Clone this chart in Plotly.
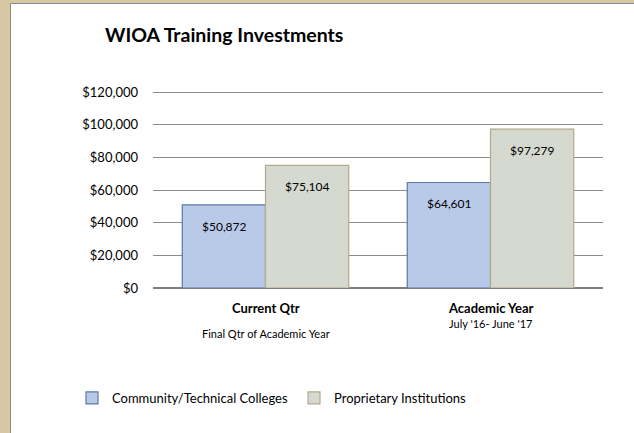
import plotly.graph_objects as go

categories = ["Current Qtr", "Academic Year"]
cat_subtitles = ["Final Qtr of Academic Year", "July '16- June '17"]
series_names = ["Community/Technical Colleges", "Proprietary Institutions"]
colleges = [50872, 64601]
proprietary = [75104, 97279]
y_ticks = [0, 20000, 40000, 60000, 80000, 100000, 120000]

FONT = "Lato"

# plot area in pixels (used for the page border shapes)
W, H = 634, 433
L, R, T, B = 153, 31, 90, 145
pw, ph = W - L - R, H - T - B
y_top = y_ticks[-1] * ph / (ph - 2)  # keep a little room so the top gridline shows

fig = go.Figure()
fig.add_trace(go.Bar(
    x=categories, y=colleges, name=series_names[0],
    marker=dict(color="#b9cae9", line=dict(color="#5a78aa", width=1.2)),
))
fig.add_trace(go.Bar(
    x=categories, y=proprietary, name=series_names[1],
    marker=dict(color="#d6d9d0", line=dict(color="#b5aa8a", width=1.2)),
))

annotations = []
# value labels inside top of bars
for i, cat in enumerate(categories):
    for j, vals in enumerate([colleges, proprietary]):
        annotations.append(dict(
            x=i, y=vals[i], xref="x", yref="y",
            text="${:,}".format(vals[i]), showarrow=False,
            xshift=(-41.5 if j == 0 else 41.5), yshift=-12, yanchor="top",
            font=dict(family=FONT, size=12, color="#000"),
        ))
# category labels
for i, cat in enumerate(categories):
    annotations.append(dict(
        x=i, y=0, xref="x", yref="y", text="<b>%s</b>" % cat, showarrow=False,
        yshift=-20, yanchor="middle", font=dict(family=FONT, size=13, color="#000"),
    ))
    annotations.append(dict(
        x=i, y=0, xref="x", yref="y", text=cat_subtitles[i], showarrow=False,
        yshift=(-45 if i == 0 else -35), yanchor="middle",
        font=dict(family=FONT, size=11, color="#000"),
    ))

shapes = [
    # white page on tan background, with a grey inner edge
    dict(type="rect", xref="paper", yref="paper", layer="below",
         x0=(10.5 - L) / pw, x1=(W + 20 - L) / pw,
         y0=-(B + 20) / ph, y1=(T + ph - 3.5) / ph,
         fillcolor="white", line=dict(color="#8a8a8a", width=1)),
]

fig.update_layout(
    width=W, height=H,
    margin=dict(l=L, r=R, t=T, b=B),
    paper_bgcolor="#d6c8a2",
    plot_bgcolor="rgba(0,0,0,0)",
    barmode="group", bargap=0.26, bargroupgap=0,
    title=dict(text="<b>WIOA Training Investments</b>", x=105 / W, xanchor="left",
               y=1 - 35 / H, yanchor="middle",
               font=dict(family=FONT, size=19.5, color="#000")),
    font=dict(family=FONT, size=13, color="#000"),
    xaxis=dict(showticklabels=False, showgrid=False, zeroline=False,
               range=[-0.5, 1.5]),
    yaxis=dict(range=[0, y_top], tickvals=y_ticks,
               ticktext=["${:,}".format(v) for v in y_ticks],
               showgrid=True, gridcolor="#8c8c8c", gridwidth=1,
               zeroline=True, zerolinecolor="#7f7f7f", zerolinewidth=2,
               ticklabelstandoff=14, tickfont=dict(size=13)),
    legend=dict(orientation="h", x=(72 - L) / pw, xanchor="left",
                y=-(398 - (T + ph)) / ph, yanchor="middle",
                entrywidth=177, entrywidthmode="pixels",
                font=dict(family=FONT, size=13), bgcolor="rgba(0,0,0,0)"),
    showlegend=True,
    annotations=annotations,
    shapes=shapes,
)

fig.write_html("out.html", config={"displayModeBar": False},
               post_script="document.body.style.margin='0';")
